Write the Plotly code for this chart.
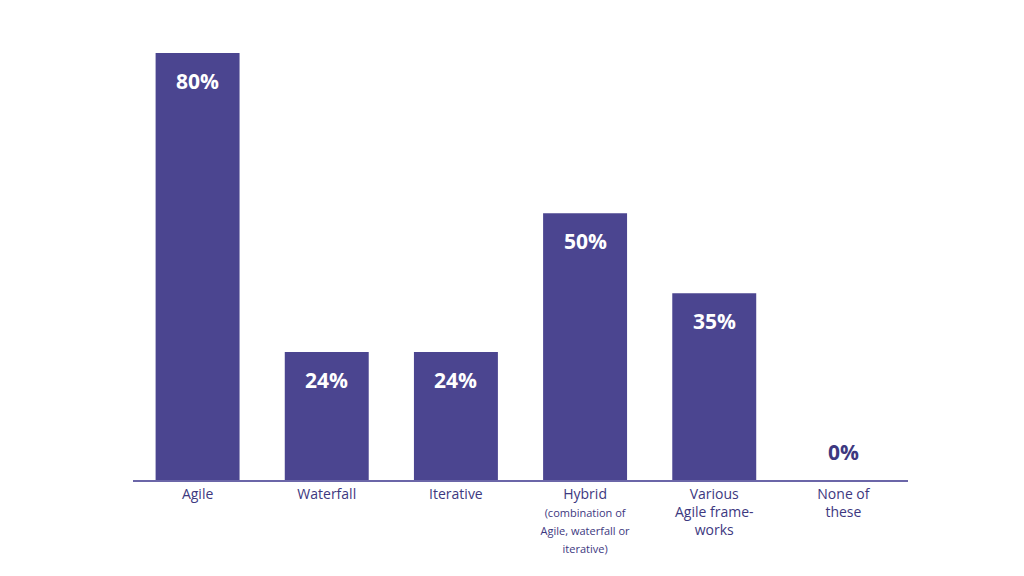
import plotly.graph_objects as go

categories = ["Agile", "Waterfall", "Iterative", "Hybrid", "Various Agile frameworks", "None of these"]
tick_labels = [
    "Agile",
    "Waterfall",
    "Iterative",
    "Hybrid<br><span style='font-size:11px'>(combination of<br>Agile, waterfall or<br>iterative)</span>",
    "Various<br>Agile frame-<br>works",
    "None of<br>these",
]
values = [80, 24, 24, 50, 35, 0]

fig = go.Figure()
fig.add_trace(go.Bar(
    x=categories, y=values, width=0.65,
    marker=dict(color="#4b4590", line=dict(width=0)),
))

for c, v in zip(categories, values):
    if v > 0:
        fig.add_annotation(x=c, y=v, text="<b>%d%%</b>" % v, showarrow=False,
                           yanchor="top", yshift=-12,
                           font=dict(color="white", size=21, family="Open Sans"))
    else:
        fig.add_annotation(x=c, y=v, text="<b>%d%%</b>" % v, showarrow=False,
                           yanchor="bottom", yshift=12,
                           font=dict(color="#3d3880", size=21, family="Open Sans"))

fig.update_layout(
    width=1024, height=576,
    margin=dict(l=125, r=124, t=45, b=104),
    plot_bgcolor="white", paper_bgcolor="white",
    showlegend=False,
    font=dict(family="Open Sans", color="#3d3880", size=14),
)
fig.update_xaxes(tickvals=categories, ticktext=tick_labels, showline=True,
                 linecolor="#6b66a8", linewidth=1.5, ticks="", showgrid=False)
fig.update_yaxes(range=[0, 80], visible=False, showgrid=False)

fig.write_html("out.html")
